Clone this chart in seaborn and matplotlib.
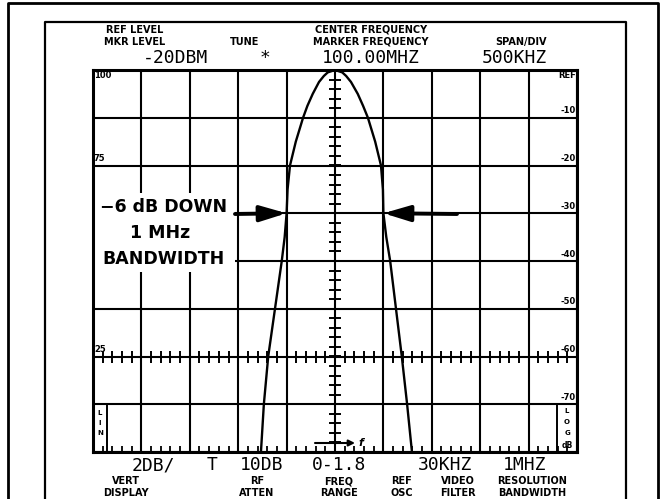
import numpy as np
import pandas as pd
import matplotlib
matplotlib.use("Agg")
import matplotlib.pyplot as plt
import seaborn as sns
from matplotlib.lines import Line2D
from matplotlib.patches import Rectangle
from matplotlib.ticker import MultipleLocator

# ---- filter response trace (offset from 100 MHz centre, level in dB) ----
freq_offset_mhz = [-0.765, -0.735, -0.69, -0.62, -0.55, -0.52, -0.50, -0.49,
                   -0.465, -0.405, -0.33, -0.285, -0.23, -0.165, -0.115,
                   -0.075, 0.0,
                   0.075, 0.115, 0.165, 0.235, 0.29, 0.34, 0.415, 0.475,
                   0.495, 0.50, 0.53, 0.57, 0.63, 0.69, 0.745, 0.795]
level_db = [-16, -14, -12, -10, -8, -7, -6, -5,
            -4, -3, -2, -1.5, -1, -0.5, -0.25,
            -0.1, 0,
            -0.1, -0.25, -0.5, -1, -1.5, -2, -3, -4,
            -5, -6, -7, -8, -10, -12, -14, -16]

# -6 dB points that define the 1 MHz bandwidth
bw_edges_mhz = [-0.5, 0.5]
bw_level_db = -6

# graticule annotations
log_labels = ["-10", "-20", "-30", "-40", "-50", "-60", "-70"]
log_label_levels = [-2, -4, -6, -8, -10, -12, -14]
lin_labels = ["75", "25"]
lin_label_levels = [-4, -12]

header_top = ["REF LEVEL", "CENTER FREQUENCY"]
header_mid = ["MKR LEVEL", "TUNE", "MARKER FREQUENCY", "SPAN/DIV"]
readouts_top = ["-20DBM", "*", "100.00MHZ", "500KHZ"]
readouts_bottom = ["2DB/", "T", "10DB", "0-1.8", "30KHZ", "1MHZ"]
captions_bottom = [("VERT", "DISPLAY"), ("RF", "ATTEN"), ("FREQ", "RANGE"),
                   ("REF", "OSC"), ("VIDEO", "FILTER"),
                   ("RESOLUTION", "BANDWIDTH")]

sns.set_theme(style="white")
plt.rcParams["font.family"] = ["DejaVu Sans"]
plt.rcParams["text.color"] = "black"

W, H = 661, 499
fig = plt.figure(figsize=(W / 100, H / 100), dpi=100)
fig.patch.set_facecolor("white")

GL, GR, GT, GB = 93, 577, 70, 452
ax = fig.add_axes([GL / W, 1 - GB / H, (GR - GL) / W, (GB - GT) / H])


def fxy(x, y):
    return x / W, 1 - y / H


def axy(x, y):
    return (x - GL) / (GR - GL), (GB - y) / (GB - GT)


# ---- graticule ----
ax.set_xlim(-2.5, 2.5)
ax.set_ylim(-16, 0)
ax.xaxis.set_major_locator(MultipleLocator(0.5))
ax.yaxis.set_major_locator(MultipleLocator(2))
ax.xaxis.set_minor_locator(MultipleLocator(0.1))
ax.grid(True, which="major", color="black", lw=1.5)
ax.set_xticklabels([])
ax.set_yticklabels([])
ax.tick_params(which="major", length=0)
ax.tick_params(axis="x", which="minor", direction="in", length=4, width=1.3,
               bottom=True, top=False, color="black")
ax.tick_params(axis="y", which="minor", length=0)
for s in ax.spines.values():
    s.set_color("black")
    s.set_linewidth(2.2)
ax.set_facecolor("white")

# cross marks on the centre vertical line and the -12 dB line
yy = np.arange(-16, 0.01, 0.4)
ax.plot(np.zeros_like(yy), yy, ls="none", marker="_", ms=8, mew=1.4,
        color="black", zorder=2)
xx = np.arange(-2.4, 2.41, 0.1)
ax.plot(xx, np.full_like(xx, -12.0), ls="none", marker="|", ms=8, mew=1.4,
        color="black", zorder=2)

# boxes for LIN / LOG legends in the bottom corners
ax.plot([axy(107, 0)[0]] * 2, [axy(0, 405)[1], 0], transform=ax.transAxes,
        color="black", lw=1.4)
ax.plot([axy(557, 0)[0]] * 2, [axy(0, 405)[1], 0], transform=ax.transAxes,
        color="black", lw=1.4)

# white area behind the annotation text
x0, y0 = axy(GL, 272)
x1, y1 = axy(235, 193)
ax.add_patch(Rectangle((x0, y0), x1 - x0, y1 - y0, transform=ax.transAxes,
                       facecolor="white", edgecolor="none", zorder=1.5))

# ---- trace ----
trace = pd.DataFrame({"freq": freq_offset_mhz, "level": level_db})
sns.lineplot(data=trace, x="freq", y="level", sort=False, estimator=None,
             color="black", lw=1.7, ax=ax, zorder=3)
ax.set_xlabel("")
ax.set_ylabel("")

# bandwidth arrows
for edge, tail_px in zip(bw_edges_mhz, [235, 457]):
    ax.annotate("", xy=(edge, bw_level_db), xytext=axy(tail_px, 214),
                textcoords="axes fraction",
                arrowprops=dict(arrowstyle="-|>,head_length=0.8,head_width=0.24",
                                lw=2.8, color="black",
                                mutation_scale=20, shrinkA=0, shrinkB=0),
                zorder=4)

# f arrow at the bottom
ax.annotate("", xy=axy(355, 443), xytext=axy(315, 443),
            xycoords="axes fraction", textcoords="axes fraction",
            arrowprops=dict(arrowstyle="-|>", lw=1.5, color="black",
                            mutation_scale=9, shrinkA=0, shrinkB=0))
ax.text(*axy(358, 443), "f", transform=ax.transAxes, ha="left", va="center",
        fontsize=8, style="italic", fontweight="bold")

# scale labels inside the graticule
for lab, lev in zip(log_labels, log_label_levels):
    ax.text(2.49, lev + 0.1, lab, ha="right", va="bottom", fontsize=6,
            fontweight="heavy", zorder=4)
for lab, lev in zip(lin_labels, lin_label_levels):
    ax.text(-2.49, lev + 0.1, lab, ha="left", va="bottom", fontsize=6,
            fontweight="heavy", zorder=4)
ax.text(*axy(94, 71), "100", transform=ax.transAxes, ha="left", va="top",
        fontsize=6, fontweight="heavy")
ax.text(*axy(576, 71), "REF", transform=ax.transAxes, ha="right", va="top",
        fontsize=6, fontweight="heavy")
for ch, yp in zip("LIN", [413, 423, 433]):
    ax.text(*axy(100, yp), ch, transform=ax.transAxes, ha="center",
            va="center", fontsize=5, fontweight="bold")
for ch, yp in zip("LOG", [411, 422, 433]):
    ax.text(*axy(567, yp), ch, transform=ax.transAxes, ha="center",
            va="center", fontsize=5, fontweight="bold")
ax.text(*axy(567, 446), "dB", transform=ax.transAxes, ha="center",
        va="center", fontsize=5.5, fontweight="heavy")

# ---- annotation text ----
ann_kw = dict(fontsize=12.5, fontweight="heavy", va="center", zorder=5,
              color="black")
fig.text(*fxy(100, 207), "\u22126 dB DOWN", ha="left", **ann_kw)
fig.text(*fxy(160, 233), "1 MHz", ha="center", **ann_kw)
fig.text(*fxy(164, 259), "BANDWIDTH", ha="center", **ann_kw)


# ---- front panel frame ----
def fline(xs, ys, lw):
    fig.add_artist(Line2D([x / W for x in xs], [1 - y / H for y in ys],
                          transform=fig.transFigure, color="black", lw=lw,
                          solid_capstyle="butt"))


fline([8, 8, 658, 658], [H, 3, 3, H], 2.0)
fline([45, 45, 626, 626], [H, 22, 22, H], 1.6)

# ---- header captions and readouts ----
small_kw = dict(fontsize=7, fontweight="heavy", ha="center", va="center",
                color="black")
for lab, xc in zip(header_top, [135, 371]):
    fig.text(*fxy(xc, 30), lab, **small_kw)
for lab, xc in zip(header_mid, [135, 245, 371, 521]):
    fig.text(*fxy(xc, 42), lab, **small_kw)

big_kw = dict(fontsize=13, family="DejaVu Sans Mono", ha="center",
              va="center", color="black")
for lab, xc in zip(readouts_top, [176, 265, 371, 514]):
    fig.text(*fxy(xc, 58), lab, **big_kw)
for lab, xc in zip(readouts_bottom, [153, 212, 262, 339, 445, 525]):
    fig.text(*fxy(xc, 465), lab, **big_kw)
for (l1, l2), xc in zip(captions_bottom, [126, 257, 339, 402, 458, 532]):
    fig.text(*fxy(xc, 481), l1, **small_kw)
    fig.text(*fxy(xc, 493), l2, **small_kw)

fig.savefig("out.png", dpi=100, facecolor="white")
